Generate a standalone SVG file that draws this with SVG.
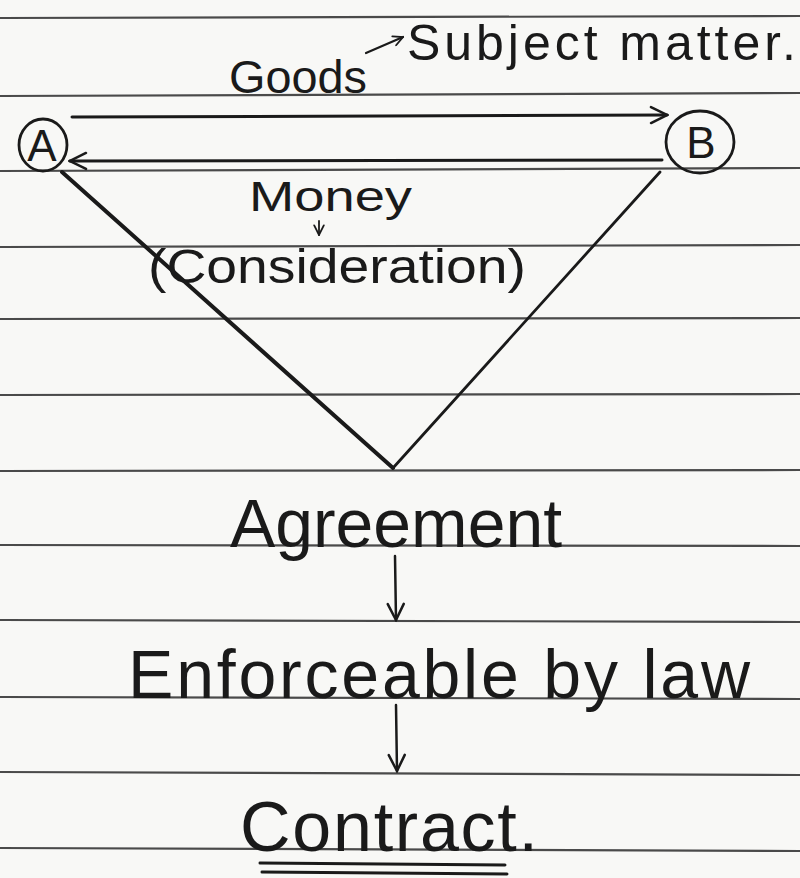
<svg xmlns="http://www.w3.org/2000/svg" width="800" height="878" viewBox="0 0 800 878">
<defs>
<style>
.rule{stroke:#4a4a4a;stroke-width:2.2;fill:none}
.ink{stroke:#1a1a1a;fill:none;stroke-linecap:round;stroke-linejoin:round}
.txt{font-family:"Liberation Sans",Arial,sans-serif;fill:#1a1a1a}
</style>
<marker id="chev" viewBox="0 0 20 20" refX="18" refY="10" markerWidth="20" markerHeight="20" markerUnits="userSpaceOnUse" orient="auto">
<path d="M2,2 L18,10 L2,18" fill="none" stroke="#1a1a1a" stroke-width="2.5" stroke-linecap="round"/>
</marker>
<marker id="chevS" viewBox="0 0 20 20" refX="18" refY="10" markerWidth="12" markerHeight="12" markerUnits="userSpaceOnUse" orient="auto">
<path d="M2,2 L18,10 L2,18" fill="none" stroke="#1a1a1a" stroke-width="3" stroke-linecap="round"/>
</marker>
</defs>
<rect width="800" height="878" fill="#f8f8f6"/>
<g id="ruled-lines">
<line class="rule" x1="0" y1="18" x2="800" y2="16"/>
<line class="rule" x1="0" y1="96" x2="800" y2="93"/>
<line class="rule" x1="0" y1="171" x2="800" y2="168"/>
<line class="rule" x1="0" y1="247" x2="800" y2="245"/>
<line class="rule" x1="0" y1="319" x2="800" y2="318"/>
<line class="rule" x1="0" y1="395" x2="800" y2="394"/>
<line class="rule" x1="0" y1="471" x2="800" y2="470"/>
<line class="rule" x1="0" y1="545" x2="800" y2="546"/>
<line class="rule" x1="0" y1="620" x2="800" y2="622"/>
<line class="rule" x1="0" y1="697" x2="800" y2="699"/>
<line class="rule" x1="0" y1="772" x2="800" y2="775"/>
<line class="rule" x1="0" y1="848" x2="800" y2="851"/>
</g>
<g id="node-A">
<ellipse class="ink" cx="43" cy="145" rx="24" ry="26" stroke-width="2.8"/>
<text class="txt" x="42" y="161" font-size="44" text-anchor="middle">A</text>
</g>
<g id="node-B">
<ellipse class="ink" cx="700" cy="142" rx="34" ry="31" stroke-width="2.8"/>
<text class="txt" x="701" y="158" font-size="44" text-anchor="middle">B</text>
</g>
<g id="label-goods">
<text class="txt" x="229" y="93" font-size="46" textLength="138" lengthAdjust="spacingAndGlyphs">Goods</text>
</g>
<g id="label-subject">
<text class="txt" x="407" y="60" font-size="50" textLength="389" lengthAdjust="spacing">Subject matter.</text>
</g>
<g id="label-money">
<text class="txt" x="249" y="211" font-size="42" textLength="163" lengthAdjust="spacingAndGlyphs">Money</text>
</g>
<g id="label-consideration">
<text class="txt" x="148" y="283" font-size="48" textLength="378" lengthAdjust="spacingAndGlyphs">(Consideration)</text>
</g>
<g id="node-agreement">
<text class="txt" x="230" y="547" font-size="68" textLength="332" lengthAdjust="spacingAndGlyphs">Agreement</text>
</g>
<g id="node-enforceable">
<text class="txt" x="128" y="698" font-size="68" textLength="622" lengthAdjust="spacing">Enforceable by law</text>
</g>
<g id="node-contract">
<text class="txt" x="240" y="851" font-size="70" textLength="298" lengthAdjust="spacing">Contract.</text>
<line class="ink" x1="260" y1="863" x2="505" y2="865" stroke-width="3"/>
<line class="ink" x1="262" y1="872" x2="507" y2="874" stroke-width="3"/>
</g>
<g id="connectors">
<line class="ink" x1="72" y1="117" x2="667" y2="115" stroke-width="3" marker-end="url(#chev)"/>
<line class="ink" x1="662" y1="160" x2="70" y2="161" stroke-width="3" marker-end="url(#chev)"/>
<line class="ink" x1="366" y1="53" x2="403" y2="37" stroke-width="2.2" marker-end="url(#chevS)"/>
<line class="ink" x1="319" y1="221" x2="319" y2="235" stroke-width="1.8" marker-end="url(#chevS)"/>
<line class="ink" x1="62" y1="172" x2="393" y2="468" stroke-width="4"/>
<line class="ink" x1="660" y1="172" x2="393" y2="468" stroke-width="2.8"/>
<line class="ink" x1="395" y1="556" x2="396" y2="620" stroke-width="2.5" marker-end="url(#chev)"/>
<line class="ink" x1="396" y1="705" x2="397" y2="771" stroke-width="2.5" marker-end="url(#chev)"/>
</g>
</svg>
